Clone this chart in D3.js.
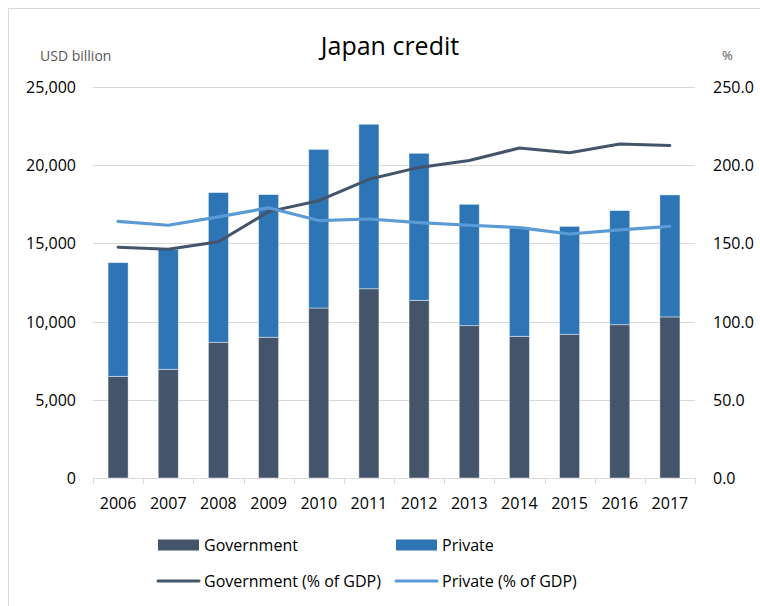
<!DOCTYPE html>
<html>
<head>
<meta charset="utf-8">
<script src="https://cdn.jsdelivr.net/npm/d3@7"></script>
<style>
  html, body { margin: 0; padding: 0; background: #fff; }
  svg { display: block; font-family: "Open Sans", "Noto Sans", sans-serif; }
</style>
</head>
<body>
<svg id="chart" width="760" height="606"></svg>
<script>
// Japan credit: stock in USD billion (bars) and share of GDP (lines)
const years = ["2006","2007","2008","2009","2010","2011","2012","2013","2014","2015","2016","2017"];
const government = [6500, 6950, 8680, 9000, 10870, 12100, 11360, 9740, 9060, 9190, 9800, 10300];
const privateCredit = [7270, 7670, 9570, 9120, 10140, 10520, 9400, 7760, 6990, 6900, 7300, 7800];
const governmentPctGdp = [147.5, 146.3, 151.0, 170.3, 177.3, 191.0, 198.6, 203.0, 211.0, 208.0, 213.5, 212.6];
const privatePctGdp = [164.1, 161.6, 167.0, 172.8, 164.6, 165.6, 163.3, 161.6, 160.1, 156.0, 158.6, 160.9];
const leftTicks = [0, 5000, 10000, 15000, 20000, 25000];
const rightTicks = [0, 50, 100, 150, 200, 250];

const colors = {
  government: "#44546A",
  private: "#2E75B6",
  governmentLine: "#44546A",
  privateLine: "#5B9BD5",
  grid: "#D9D9D9",
  text: "#000000",
  subtle: "#595959"
};

const svg = d3.select("#chart");
const plot = { left: 93, right: 695, top: 87, bottom: 478 };

const x = d3.scaleBand().domain(years).range([plot.left, plot.right])
  .paddingInner(0.6).paddingOuter(0.3);
const step = (plot.right - plot.left) / years.length;
const yLeft = d3.scaleLinear().domain([0, 25000]).range([plot.bottom, plot.top]);
const yRight = d3.scaleLinear().domain([0, 250]).range([plot.bottom, plot.top]);

// outer frame
svg.append("rect").attr("x", 8.5).attr("y", 8.5).attr("width", 800).attr("height", 700)
  .attr("fill", "none").attr("stroke", colors.grid);

// horizontal gridlines
svg.append("g").selectAll("line").data(leftTicks.slice(1)).join("line")
  .attr("x1", plot.left).attr("x2", plot.right)
  .attr("y1", d => Math.round(yLeft(d)) + 0.5).attr("y2", d => Math.round(yLeft(d)) + 0.5)
  .attr("stroke", colors.grid).attr("stroke-width", 1);

// category axis: baseline and boundary ticks
const xAxis = svg.append("g");
xAxis.append("line").attr("x1", plot.left).attr("x2", plot.right)
  .attr("y1", plot.bottom + 0.5).attr("y2", plot.bottom + 0.5)
  .attr("stroke", colors.grid);
xAxis.selectAll("line.tick").data(d3.range(years.length + 1)).join("line")
  .attr("class", "tick")
  .attr("x1", i => Math.round(plot.left + i * step) + 0.5)
  .attr("x2", i => Math.round(plot.left + i * step) + 0.5)
  .attr("y1", plot.bottom).attr("y2", plot.bottom + 6)
  .attr("stroke", colors.grid);
xAxis.selectAll("text").data(years).join("text")
  .attr("x", d => x(d) + x.bandwidth() / 2).attr("y", 503)
  .attr("text-anchor", "middle").attr("dominant-baseline", "central")
  .attr("font-size", 16).attr("fill", colors.text).text(d => d);

// left value axis labels
svg.append("g").selectAll("text").data(leftTicks).join("text")
  .attr("x", 76).attr("y", d => yLeft(d))
  .attr("text-anchor", "end").attr("dominant-baseline", "central")
  .attr("font-size", 16).attr("fill", colors.text)
  .text(d => d3.format(",")(d));

// right percentage axis labels
svg.append("g").selectAll("text").data(rightTicks).join("text")
  .attr("x", 713).attr("y", d => yRight(d))
  .attr("text-anchor", "start").attr("dominant-baseline", "central")
  .attr("font-size", 16).attr("fill", colors.text)
  .text(d => d3.format(".1f")(d));

// stacked bars
const rows = years.map((yr, i) => ({ year: yr, government: government[i], private: privateCredit[i] }));
const stack = d3.stack().keys(["government", "private"])(rows);
svg.append("g").selectAll("g").data(stack).join("g")
  .attr("fill", d => colors[d.key])
  .selectAll("rect").data(d => d).join("rect")
  .attr("x", d => x(d.data.year)).attr("width", x.bandwidth())
  .attr("y", d => yLeft(d[1])).attr("height", d => yLeft(d[0]) - yLeft(d[1]))
  .attr("stroke", "rgba(255,255,255,0.55)").attr("stroke-width", 0.8);

// percentage lines
const line = d3.line().x((d, i) => x(years[i]) + x.bandwidth() / 2).y(d => yRight(d));
svg.append("path").datum(governmentPctGdp).attr("d", line)
  .attr("fill", "none").attr("stroke", colors.governmentLine)
  .attr("stroke-width", 3).attr("stroke-linejoin", "round").attr("stroke-linecap", "round");
svg.append("path").datum(privatePctGdp).attr("d", line)
  .attr("fill", "none").attr("stroke", colors.privateLine)
  .attr("stroke-width", 3.2).attr("stroke-linejoin", "round").attr("stroke-linecap", "round");

// titles
svg.append("text").attr("x", 390).attr("y", 45).attr("text-anchor", "middle")
  .attr("dominant-baseline", "central").attr("font-size", 25).attr("fill", colors.text)
  .text("Japan credit");
svg.append("text").attr("x", 40).attr("y", 55).attr("dominant-baseline", "central")
  .attr("font-size", 14).attr("fill", colors.subtle).text("USD billion");
svg.append("text").attr("x", 722).attr("y", 55).attr("dominant-baseline", "central")
  .attr("font-size", 13).attr("fill", colors.subtle).text("%");

// legend
const legendItems = [
  { label: "Government", type: "bar", color: colors.government, x: 158, y: 545 },
  { label: "Private", type: "bar", color: colors.private, x: 396, y: 545 },
  { label: "Government (% of GDP)", type: "line", color: colors.governmentLine, x: 158, y: 581 },
  { label: "Private (% of GDP)", type: "line", color: colors.privateLine, x: 396, y: 581 }
];
const legend = svg.append("g").selectAll("g").data(legendItems).join("g")
  .attr("transform", d => `translate(${d.x},${d.y})`);
legend.filter(d => d.type === "bar").append("rect")
  .attr("x", 0).attr("y", -5.5).attr("width", 41).attr("height", 11)
  .attr("fill", d => d.color);
legend.filter(d => d.type === "line").append("line")
  .attr("x1", 0).attr("x2", 41).attr("y1", 0).attr("y2", 0)
  .attr("stroke", d => d.color).attr("stroke-width", 3).attr("stroke-linecap", "round");
legend.append("text").attr("x", 46).attr("y", 0).attr("dominant-baseline", "central")
  .attr("font-size", 16).attr("fill", colors.text).text(d => d.label);
</script>
</body>
</html>
